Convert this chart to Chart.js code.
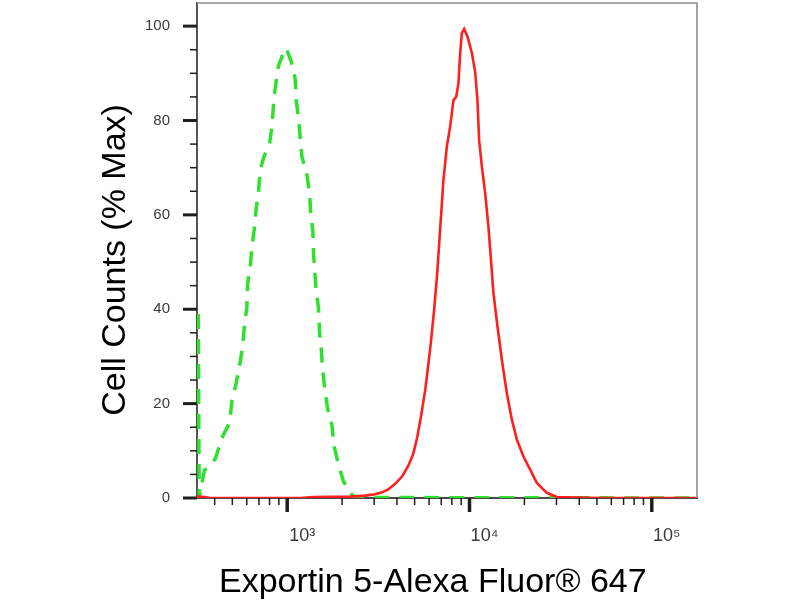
<!DOCTYPE html>
<html>
<head>
<meta charset="utf-8">
<script src="https://cdn.jsdelivr.net/npm/chart.js@4.4.1/dist/chart.umd.min.js"></script>
<style>
  html, body { margin: 0; padding: 0; background: #ffffff; }
  #wrap { width: 800px; height: 600px; position: relative; }
</style>
</head>
<body>
<div id="wrap"><canvas id="c"></canvas></div>
<script>
// ---- data (fluorescence intensity, % of max) ----
const controlX = [325, 329, 351, 403, 438, 483, 497, 525, 553, 569, 583, 601, 606, 627, 640, 659, 676, 696, 711, 748, 800, 824, 841, 859, 896, 967, 987, 1052, 1106, 1120, 1153, 1168, 1204, 1282, 1325, 1349, 1383, 1394, 1412, 1442, 1485, 1504, 1536, 1562, 1602, 1663, 1758, 1810, 1911, 2036, 2264, 2390, 177000];
const controlY = [39, 0, 5.8, 8.3, 12.7, 16, 20.5, 24.4, 28.9, 32.1, 36.7, 40.6, 45.2, 49.1, 53.3, 56.8, 61.4, 65, 69.6, 72.5, 74.9, 78.7, 83.3, 86.9, 91.6, 95, 95.3, 92.5, 88.8, 84.4, 80.5, 78, 72.4, 68.5, 64.6, 60, 56.5, 51.9, 48.7, 43.8, 40.3, 35, 31.8, 27.5, 23.6, 19.1, 15.5, 10.9, 7.1, 3.5, 0.7, 0.1, 0];

const sampleX = [321, 355, 378, 1178, 1389, 2215, 2677, 3038, 3319, 3580, 3911, 4272, 4608, 4909, 5163, 5430, 5711, 5931, 6160, 6400, 6647, 6902, 7196, 7512, 7831, 8166, 8450, 8699, 8887, 9078, 9346, 9743, 10302, 10740, 11056, 11295, 11686, 12185, 12703, 13110, 13531, 14234, 15046, 16027, 17071, 18182, 19763, 21512, 23413, 26565, 30130, 52060, 177000];
const sampleY = [0.3, 0.2, 0, 0, 0.2, 0.3, 0.5, 0.8, 1.2, 1.8, 3.0, 4.6, 6.8, 9.3, 12.8, 17.5, 22.8, 28, 33.5, 40, 47.5, 57, 67.4, 74.5, 78.7, 84.3, 85, 87.9, 94.3, 98.5, 99.4, 97.8, 94.3, 90.3, 84.3, 75.8, 70.3, 64.6, 57.5, 50.5, 43.4, 36.4, 29.3, 22.2, 16.6, 12.4, 8.8, 6, 3.2, 1.1, 0.2, 0, 0];

// ---- axes ----
const xTickValues = [400, 500, 600, 700, 800, 900, 1000, 2000, 3000, 4000, 5000, 6000, 7000, 8000, 9000, 10000, 20000, 30000, 40000, 50000, 60000, 70000, 80000, 90000, 100000];
const xMajorValues = [1000, 10000, 100000];
const xMajorLabels = ['10\u00b3', '10\u2074', '10\u2075'];
const yTickValues = [0, 5, 10, 15, 20, 25, 30, 35, 40, 45, 50, 55, 60, 65, 70, 75, 80, 85, 90, 95, 100];
const yMajorValues = [0, 20, 40, 60, 80, 100];
const xMin = 320, xMax = 177000, yMin = 0, yMax = 104.9;
const xTitle = 'Exportin 5-Alexa Fluor\u00ae 647';
const yTitle = 'Cell Counts (% Max)';

const toPoints = (xs, ys) => xs.map((x, i) => ({ x: x, y: ys[i] }));

const tickFrame = {
  id: 'tickFrame',
  afterDraw(chart) {
    const { ctx, chartArea: a, scales } = chart;
    const x = scales.x, y = scales.y;
    ctx.save();
    ctx.strokeStyle = '#8e8e8e';
    ctx.lineWidth = 1.6;
    ctx.beginPath();
    ctx.moveTo(a.left, a.top);
    ctx.lineTo(a.right, a.top);
    ctx.lineTo(a.right, a.bottom);
    ctx.stroke();
    ctx.strokeStyle = '#1e1e1e';
    y.ticks.forEach(t => {
      const major = yMajorValues.includes(t.value);
      const py = y.getPixelForValue(t.value);
      ctx.lineWidth = major ? 3 : 1.5;
      ctx.beginPath();
      ctx.moveTo(a.left - (major ? 14 : 7), py);
      ctx.lineTo(a.left, py);
      ctx.stroke();
    });
    x.ticks.forEach(t => {
      const major = xMajorValues.includes(t.value);
      const px = x.getPixelForValue(t.value);
      ctx.lineWidth = major ? 3.5 : 1.5;
      ctx.beginPath();
      ctx.moveTo(px, a.bottom);
      ctx.lineTo(px, a.bottom + (major ? 14 : 7));
      ctx.stroke();
    });
    ctx.restore();
  }
};

const FONT = 'Liberation Sans, Arial, Helvetica, sans-serif';

new Chart(document.getElementById('c'), {
  type: 'line',
  data: {
    datasets: [
      {
        label: 'Exportin 5',
        data: toPoints(sampleX, sampleY),
        borderColor: '#ff1f1f',
        borderWidth: 2.6,
        pointRadius: 0,
        tension: 0,
        fill: false,
        order: 0
      },
      {
        label: 'Isotype control',
        data: toPoints(controlX, controlY),
        borderColor: '#2fe02f',
        borderWidth: 3.5,
        borderDash: [15, 10],
        pointRadius: 0,
        tension: 0,
        fill: false,
        order: 1
      }
    ]
  },
  options: {
    responsive: true,
    maintainAspectRatio: false,
    animation: false,
    layout: { padding: { left: 99, right: 103, top: 3, bottom: 0 } },
    plugins: { legend: { display: false }, tooltip: { enabled: false } },
    scales: {
      x: {
        type: 'logarithmic',
        min: xMin,
        max: xMax,
        afterBuildTicks: s => { s.ticks = xTickValues.map(v => ({ value: v, major: xMajorValues.includes(v) })); },
        afterFit: s => { s.height = 102; s.paddingLeft = 0; s.paddingRight = 0; },
        grid: { display: false },
        border: { display: true, color: '#4a4a4a', width: 2 },
        ticks: {
          autoSkip: false,
          maxRotation: 0,
          padding: 19,
          labelOffset: 15,
          color: '#3a3a3a',
          font: { family: FONT, size: 18 },
          callback: v => { const i = xMajorValues.indexOf(v); return i >= 0 ? xMajorLabels[i] : ''; }
        },
        title: {
          display: true,
          text: xTitle + '\u00a0\u00a0\u00a0',
          color: '#000',
          padding: { top: 0, bottom: 0 },
          font: { family: FONT, size: 34, lineHeight: 1 }
        }
      },
      y: {
        type: 'linear',
        min: yMin,
        max: yMax,
        afterBuildTicks: s => { s.ticks = yTickValues.map(v => ({ value: v })); },
        afterFit: s => { s.width = 98; s.paddingTop = 0; s.paddingBottom = 0; },
        grid: { display: false },
        border: { display: true, color: '#555555', width: 2 },
        ticks: {
          autoSkip: false,
          padding: 19,
          color: '#3a3a3a',
          font: { family: FONT, size: 15 },
          callback: v => (yMajorValues.includes(v) ? String(v) : '')
        },
        title: {
          display: true,
          text: yTitle + '\u00a0\u00a0',
          color: '#000',
          padding: { top: 0, bottom: 0 },
          font: { family: FONT, size: 34, lineHeight: 1 }
        }
      }
    }
  },
  plugins: [tickFrame]
});
</script>
</body>
</html>
